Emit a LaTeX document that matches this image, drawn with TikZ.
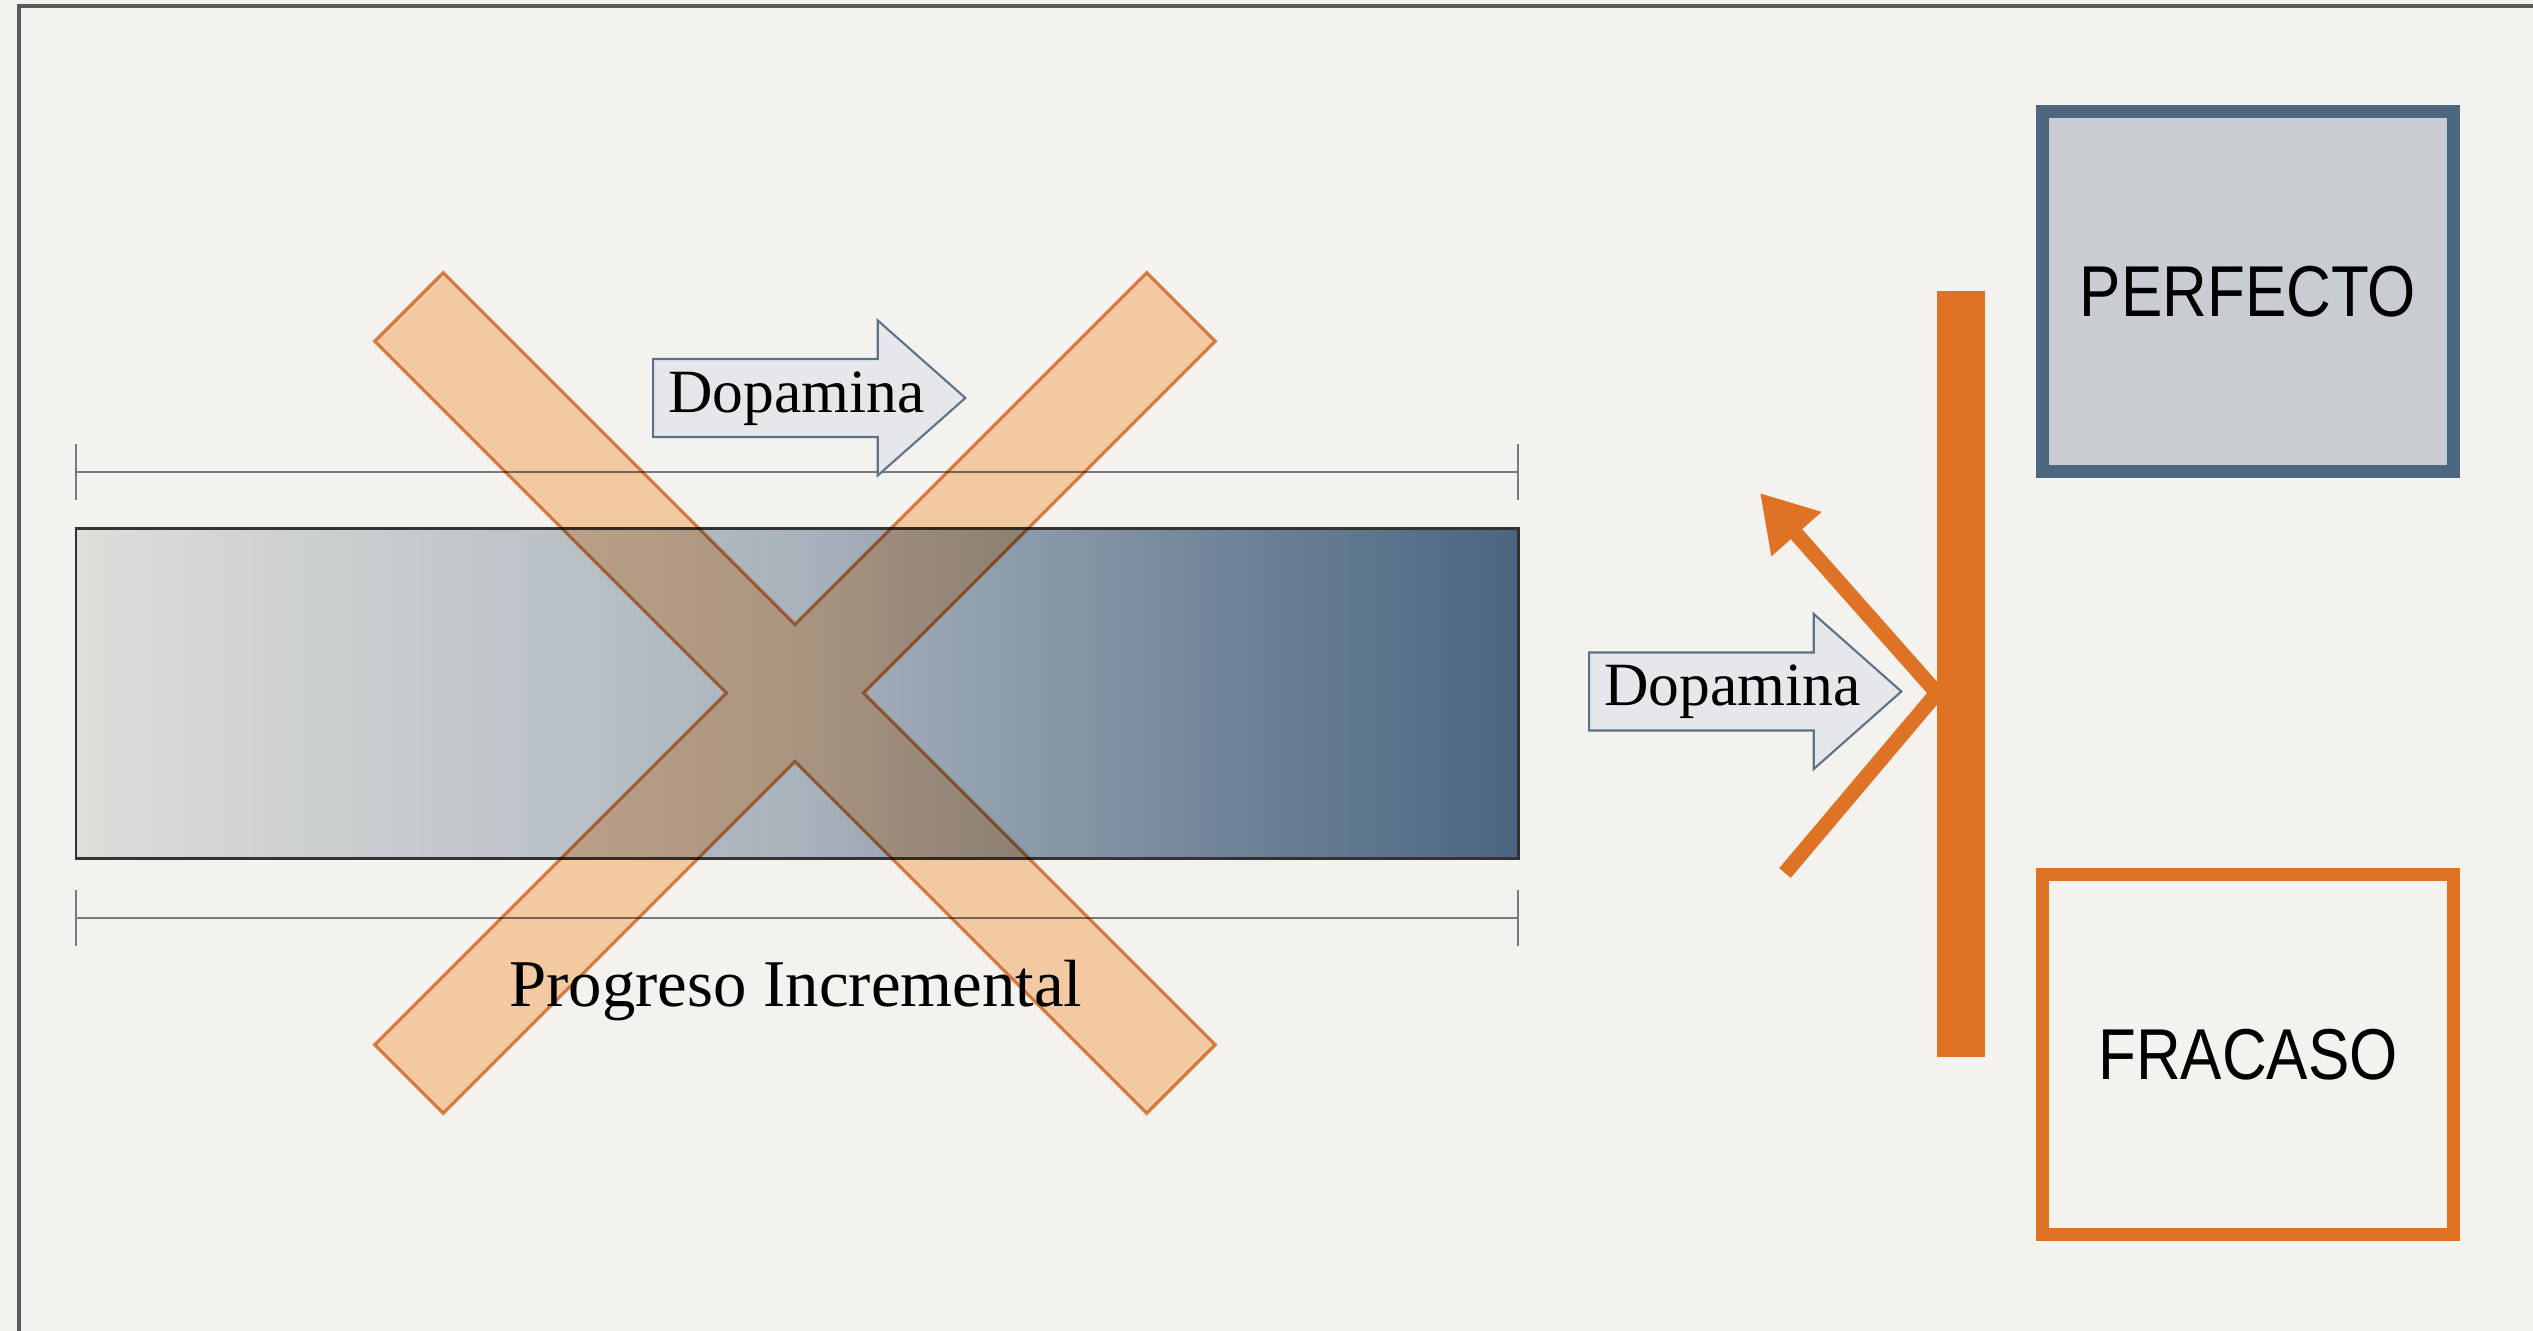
\documentclass[tikz,border=0pt]{standalone}
\usepackage{fontspec}
\setmainfont{Liberation Serif}
\newfontfamily\boxfont[FakeStretch=0.86]{Liberation Sans}
\usetikzlibrary{shapes.arrows,arrows.meta}

\definecolor{paper}{HTML}{F3F2EE}
\definecolor{frameGray}{HTML}{5A5A5A}
\definecolor{dimGray}{HTML}{7A7A7A}
\definecolor{barLight}{HTML}{DEDEDA}
\definecolor{barMid}{HTML}{A9B3BD}
\definecolor{barDark}{HTML}{4A6581}
\definecolor{slate}{HTML}{4E6781}
\definecolor{boxGray}{HTML}{C9CCD0}
\definecolor{stopOrange}{HTML}{DE7325}
\definecolor{crossEdge}{HTML}{E08E55}
\definecolor{crossFill}{HTML}{FFD4AE}
\definecolor{arrowFill}{HTML}{E5E7EA}
\definecolor{arrowEdge}{HTML}{5C718A}

\tikzset{
  dimline/.style={draw=dimGray, line width=0.7pt},
  dopa/.style={single arrow, draw=arrowEdge, fill=arrowFill, line width=0.6pt,
    font=\fontsize{17.5}{20}\selectfont, text height=12pt, text depth=4pt,
    text width=2.38cm, inner ysep=2.8pt, inner xsep=4pt,
    single arrow head extend=0.385cm, single arrow tip angle=83},
  outcome/.style={rectangle, line width=3.7pt, minimum width=4.11cm,
    minimum height=3.6cm, font=\boxfont\fontsize{20.5}{24}\selectfont},
  deflect/.style={draw=stopOrange, line width=4.3pt},
}

\begin{document}
\begin{tikzpicture}

%BACKGROUND
\clip (0,0) rectangle (25.33,13.31);
\fill[paper] (0,0) rectangle (25.33,13.31);
\draw[frameGray, line width=1.4pt] (0.19,-1) rectangle (26,13.25);
%BACKGROUND

\draw[dimline] (0.76,8.59) -- (15.18,8.59);
\draw[dimline] (0.76,8.31) -- (0.76,8.87);
\draw[dimline] (15.18,8.31) -- (15.18,8.87);

\draw[dimline] (0.76,4.13) -- (15.18,4.13);
\draw[dimline] (0.76,3.85) -- (0.76,4.41);
\draw[dimline] (15.18,3.85) -- (15.18,4.41);

\node[draw=black!80, line width=0.85pt, inner sep=0, minimum width=14.42cm, minimum height=3.30cm,
  left color=barLight, right color=barDark, middle color=barMid] (bar) at (7.97,6.37) {};

\node[dopa, anchor=tail] (dopTop) at (6.52,9.33) {Dopamina};

%CROSS
\begin{scope}[shift={(7.95,6.38)}, rotate=45]
\filldraw[fill=crossFill, draw=crossEdge, line width=0.9pt, blend mode=multiply]
  (5.46,0.485) -- (0.485,0.485) -- (0.485,5.46) -- (-0.485,5.46) -- (-0.485,0.485)
  -- (-5.46,0.485) -- (-5.46,-0.485) -- (-0.485,-0.485) -- (-0.485,-5.46)
  -- (0.485,-5.46) -- (0.485,-0.485) -- (5.46,-0.485) -- cycle;
\end{scope}

\node[font=\fontsize{19}{22}\selectfont, anchor=base] (progLabel) at (7.96,3.24) {Progreso Incremental};

%WALL
\coordinate (hit) at (19.37,6.38);
\coordinate (bounceUp) at (17.60,8.38);
\coordinate (bounceLow) at (17.85,4.58);
\draw[deflect, -{Triangle[length=5.5mm,width=6.3mm]}] (bounceLow) -- (hit) -- (bounceUp);
\node[fill=stopOrange, inner sep=0, minimum width=0.48cm, minimum height=7.66cm] (wall) at (19.61,6.57) {};

\node[dopa, anchor=tail] (dopRight) at (15.88,6.395) {Dopamina};

\node[outcome, draw=slate, fill=boxGray] (perfecto) at (22.48,10.39) {PERFECTO};
\node[outcome, draw=stopOrange, fill=paper] (fracaso) at (22.48,2.76) {FRACASO};

\end{tikzpicture}
\end{document}
